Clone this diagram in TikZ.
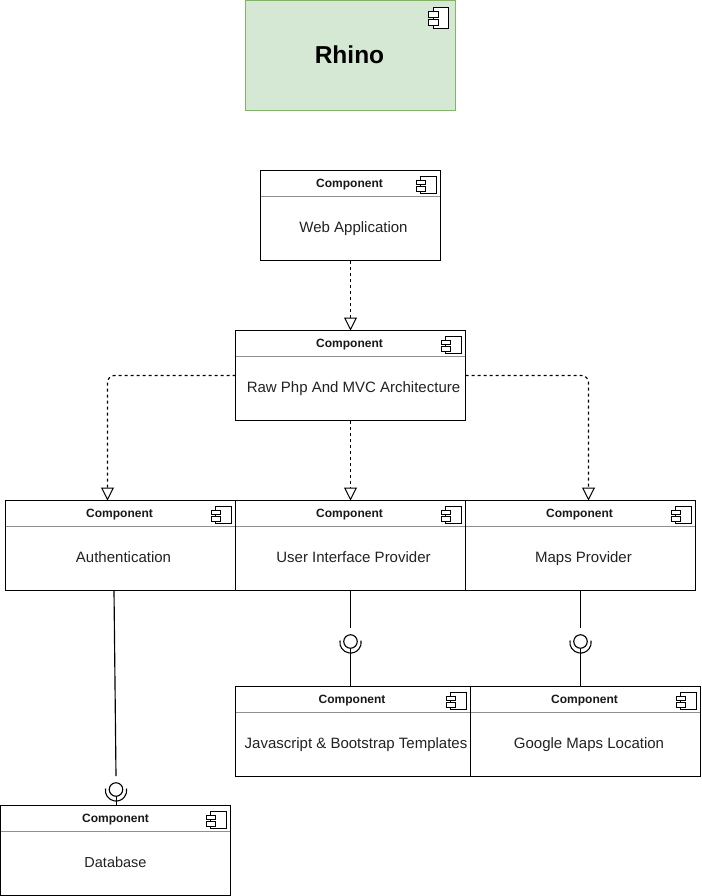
\documentclass[tikz,border=0pt]{standalone}
\usepackage{fontspec}
\setmainfont{Liberation Sans}
\usetikzlibrary{arrows.meta,calc}
\definecolor{hdr}{HTML}{909090}
\definecolor{bodytxt}{HTML}{222222}
\definecolor{rhinofill}{HTML}{D5E8D4}
\definecolor{rhinoline}{HTML}{82B366}
\tikzset{
  x=1pt,y=-1pt,
  every node/.style={outer sep=0pt,inner sep=0pt},
  line width=1pt,
  compbox/.style={draw=black,fill=white,anchor=north west,minimum height=90pt},
  hdrtext/.style={font=\fontsize{12}{14}\selectfont\bfseries,text=black!90,anchor=base},
  bodytext/.style={font=\fontsize{15}{17}\selectfont,text=bodytxt,anchor=base},
  depline/.style={draw=black,dash pattern=on 3pt off 3pt,-{Triangle[open,length=13pt,width=13pt,line width=1pt]}},
  bentdep/.style={depline,line width=1.15pt,rounded corners=7pt},
  ifcline/.style={draw=black},
  slantline/.style={draw=black,line width=1.15pt},
  ballnode/.style={draw=black,fill=white,circle,minimum size=13.5pt,line width=1.1pt},
  sockarc/.style={draw=black,line width=1.1pt}
}
% #1 name, #2 x, #3 y, #4 width, #5 text, #6 text shift, #7 header shift, #8 font size
\newcommand\compo[8]{%
  \node[compbox,minimum width=#4pt] (#1) at (#2,#3) {};
  \draw[draw=hdr] ($(#1.north west)+(0.5,26)$) -- ($(#1.north east)+(-0.5,26)$);
  \node[hdrtext] (#1h) at ($(#1.north)+(#7,17)$) {Component};
  \node[bodytext,font=\fontsize{#8}{17}\selectfont] (#1b) at ($(#1.north)+(#6,61.5)$) {#5};
  \compicon{#1}{-4.5}{6}{1}
}
% small component icon, anchored by its top right corner
\newcommand\compicon[4]{%
  \begin{scope}[shift={($(#1.north east)+(#2,#3)$)},yscale=#4]
    \draw[fill=white] (-15.5,0) rectangle (0,17);
    \draw[fill=white] (-20,3.5) rectangle (-10.5,8);
    \draw[fill=white] (-20,10) rectangle (-10.5,14.5);
  \end{scope}
}
% ball and socket: #1 ball name, #2 x, #3 socket centre y
\newcommand\lolly[3]{%
  \draw[sockarc] (#2-10.5,#3+2) arc[start angle=190,end angle=-10,radius=10.7];
  \coordinate (#1top) at (#2,#3-10.5);
  \node[ballnode] (#1) at (#2,#3+3) {};
}
\begin{document}
\begin{tikzpicture}
\useasboundingbox (0,0) rectangle (701,896);
% Rhino
\node[draw=rhinoline,fill=rhinofill,anchor=north west,minimum width=210pt,minimum height=110pt] (rhino) at (245.5,0.5) {};
\node[font=\fontsize{24.5}{28}\selectfont\bfseries] (rhinot) at ($(rhino.center)+(-1,-1)$) {Rhino};
\compicon{rhino}{-7}{7}{1.2}
% Components
\compo{web}{260.5}{170.5}{180}{Web Application}{3}{-1}{15}
\compo{raw}{235.5}{330.5}{230}{Raw Php And MVC Architecture}{3}{-1}{15}
\compo{auth}{5.5}{500.5}{230}{Authentication}{3}{-1}{15}
\compo{ui}{235.5}{500.5}{230}{User Interface Provider}{3}{-1}{15}
\compo{maps}{465.5}{500.5}{230}{Maps Provider}{3}{-1}{15}
\compo{js}{235.5}{686.5}{235}{Javascript \& Bootstrap Templates}{3}{-1}{15}
\compo{gm}{470.5}{686.5}{230}{Google Maps Location}{3.5}{-1}{15}
\compo{db}{0.5}{805.5}{230}{Database}{0}{0}{14.5}
% Dependencies
\draw[depline] (web.south) -- (raw.north);
\draw[depline] (raw.south) -- (ui.north);
\coordinate (authin) at (107.5,500.5);
\coordinate (mapsin) at (588.5,500.5);
\draw[bentdep] (raw.west) -- (107.5,375.5) -- (authin);
\draw[bentdep] (raw.east) -- (588.5,375.5) -- (mapsin);
% Interfaces
\lolly{ballui}{350.5}{638.5}
\lolly{ballmaps}{580.5}{638.5}
\lolly{balldb}{116}{786.5}
\coordinate (authout) at (114,590.5);
\coordinate (mapsjoin) at (580.5,686.5);
\coordinate (dbjoin) at (116,805.5);
\draw[ifcline] (ui.south) -- (balluitop);
\draw[ifcline] (ballui.south) -- (js.north -| ballui);
\draw[ifcline] (maps.south) -- (ballmapstop);
\draw[ifcline] (ballmaps.south) -- (mapsjoin);
\draw[slantline] (authout) -- (balldbtop);
\draw[ifcline] (balldb.south) -- (dbjoin);
\end{tikzpicture}
\end{document}
